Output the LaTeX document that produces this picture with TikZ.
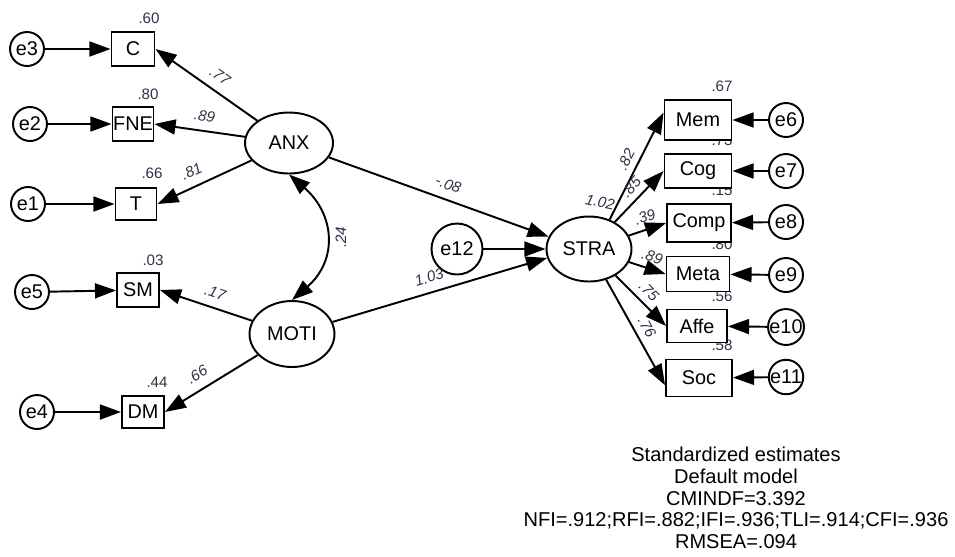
\documentclass[tikz,border=0pt]{standalone}
\usepackage{fontspec}
\setmainfont{Liberation Sans}
\usetikzlibrary{shapes, arrows.meta}
\definecolor{coefcol}{RGB}{45,50,72}

\begin{document}
\begin{tikzpicture}[
    % GLOBAL CFG (one unit = one pixel, y going down)
    x=0.02cm, y=-0.02cm,
    font=\fontsize{11.3}{13}\selectfont,
    >={Triangle[length=12pt, width=8.5pt]},
    line width=1.1pt,
    % Styles
    latent/.style={% For the factors
        ellipse,
        draw,
        fill=white,
        inner sep=0pt,
        minimum width=1.76cm,
        minimum height=1.22cm,
        },
    observed/.style={% For the measured scales
        rectangle,
        draw,
        fill=white,
        inner sep=0pt,
        minimum width=0.84cm,
        minimum height=0.68cm,
        },
    errvar/.style={% For the residuals
        circle,
        draw,
        fill=white,
        inner sep=0pt,
        minimum size=0.68cm,
        },
    coef/.style={% Weights written along the paths
        font=\fontsize{8.6}{10}\selectfont\itshape,
        text=coefcol,
        inner sep=1pt,
        },
    rsq/.style={% Squared multiple correlations
        font=\fontsize{8.6}{10}\selectfont,
        text=coefcol,
        inner sep=0pt,
        },
    Path/.style={% Single headed paths
        ->,
        line width=1.1pt,
        }
    ]

    \useasboundingbox (0,0) rectangle (955,556);

    % Squared multiple correlations first, the boxes cover them
    \node[rsq] (rC) at (149,18) {.60};
    \node[rsq] (rFNE) at (148,94) {.80};
    \node[rsq] (rT) at (152,173) {.66};
    \node[rsq] (rSM) at (153,260) {.03};
    \node[rsq] (rDM) at (157,382) {.44};
    \node[rsq] (rMem) at (722,86) {.67};
    \node[rsq] (rCog) at (722,140) {.73};
    \node[rsq] (rComp) at (722,190) {.15};
    \node[rsq] (rMeta) at (722,244) {.80};
    \node[rsq] (rAffe) at (722,296) {.56};
    \node[rsq] (rSoc) at (722,345) {.58};
    \node[coef, rotate=-12] (rSTRA) at (600,202) {1.02};

    % Draw the factors
    \node[latent] (ANX) at (289,143) {ANX};
    \node[latent, minimum width=1.7cm, minimum height=1.32cm] (MOTI) at (292,334) {MOTI};
    \node[latent, minimum width=1.7cm, minimum height=1.3cm] (STRA) at (589,249) {STRA};

    % Draw the scales, left side
    \node[observed, minimum width=0.86cm] (C) at (133,49) {C};
    \node[observed, minimum width=0.82cm] (FNE) at (133,124) {FNE};
    \node[observed, minimum width=0.82cm, minimum height=0.64cm] (T) at (136,204) {T};
    \node[observed] (SM) at (138,290) {SM};
    \node[observed, minimum height=0.64cm] (DM) at (143,412) {DM};

    % Draw the scales, right side
    \node[observed, minimum width=1.34cm, minimum height=0.8cm] (Mem) at (698,120) {Mem};
    \node[observed, minimum width=1.34cm] (Cog) at (698,171) {Cog};
    \node[observed, minimum width=1.28cm, minimum height=0.76cm] (Comp) at (699,223) {Comp};
    \node[observed, minimum width=1.26cm, minimum height=0.7cm] (Meta) at (698,274) {Meta};
    \node[observed, minimum width=1.2cm, minimum height=0.66cm] (Affe) at (697,326) {Affe};
    \node[observed, minimum width=1.32cm, minimum height=0.74cm] (Soc) at (699,378) {Soc};

    % Draw the residuals
    \node[errvar] (e3) at (27,49) {e3};
    \node[errvar] (e2) at (30,124) {e2};
    \node[errvar] (e1) at (28,204) {e1};
    \node[errvar] (e5) at (32,292) {e5};
    \node[errvar] (e4) at (37,412) {e4};
    \node[errvar, minimum size=1.02cm] (e12) at (457,249) {e12};
    \node[errvar] (e6) at (786,120) {e6};
    \node[errvar] (e7) at (786,171) {e7};
    \node[errvar] (e8) at (786,222) {e8};
    \node[errvar] (e9) at (786,275) {e9};
    \node[errvar] (e10) at (786,327) {e10};
    \node[errvar] (e11) at (786,377) {e11};

% Start connecting all.
    % Residuals into the scales
    \draw[Path] (e3) -- (C);
    \draw[Path] (e2) -- (FNE);
    \draw[Path] (e1) -- (T);
    \draw[Path] (e5) -- (SM);
    \draw[Path] (e4) -- (DM);
    \draw[Path] (e6) -- (Mem);
    \draw[Path] (e7) -- (Cog);
    \draw[Path] (e8) -- (Comp);
    \draw[Path] (e9) -- (Meta);
    \draw[Path] (e10) -- (Affe);
    \draw[Path] (e11) -- (Soc);
    \draw[Path] (e12) -- (STRA);

    % Loadings
    \draw[Path] (ANX) -- (C.east) node[coef, pos=.45, sloped, above=4pt] {.77};
    \draw[Path] (ANX) -- (FNE.east) node[coef, pos=.47, sloped, above=4pt] {.89};
    \draw[Path] (ANX) -- (T.east) node[coef, pos=.57, sloped, above=4pt] {.81};
    \draw[Path] (MOTI) -- (SM.east) node[coef, pos=.45, sloped, above=4pt] {.17};
    \draw[Path] (MOTI) -- (DM.east) node[coef, pos=.57, sloped, above=4pt] {.66};
    \draw[Path] (STRA.55) -- (Mem.168) node[coef, pos=.51, sloped, above=2.5pt] {.82};
    \draw[Path] (STRA) -- (Cog.west) node[coef, pos=.52, sloped, above=2.5pt] {.85};
    \draw[Path] (STRA) -- (Comp.west) node[coef, pos=.54, sloped, above=2.5pt] {.39};
    \draw[Path] (STRA) -- (Meta.west) node[coef, pos=.53, sloped, above=2.5pt] {.89};
    \draw[Path] (STRA) -- (Affe.west) node[coef, pos=.49, sloped, above=2.5pt] {.75};
    \draw[Path] (STRA) -- (Soc.192) node[coef, pos=.51, sloped, above=2.5pt] {.76};

    % Structural paths
    \draw[Path] (ANX) -- (STRA.163) node[coef, pos=.52, sloped, above=4pt] {-.08};
    \draw[Path] (MOTI) -- (STRA.192) node[coef, pos=.47, sloped, above=4pt] {1.03};

    % Covariance
    \draw[<->] (ANX.south) .. controls +(46,40) and +(46,-40) .. (MOTI.north)
        node[coef, midway, xshift=9pt, rotate=90] {.24};

    % Fit summary
    \node[align=center, font=\fontsize{11.4}{12.4}\selectfont] (fit) at (736,498)
        {Standardized estimates\\Default model\\CMINDF=3.392\\NFI=.912;RFI=.882;IFI=.936;TLI=.914;CFI=.936\\RMSEA=.094};

\end{tikzpicture}
\end{document}
